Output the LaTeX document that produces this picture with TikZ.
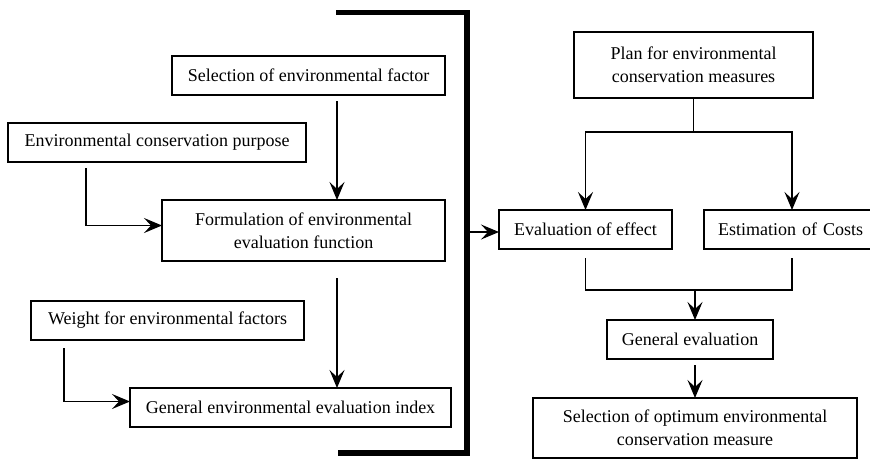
\documentclass[tikz,border=0pt]{standalone}
\usepackage{fontspec}
\setmainfont{Liberation Serif}
\usetikzlibrary{calc, positioning, arrows.meta}
\def\boxlinewidth{1.2pt}
\def\bracketlinewidth{5.5pt}
\def\boxheight{39pt}
\def\tallboxheight{61pt}
\def\shortenlen{6pt}
\tikzset{
	% labels
	label/.style={
		font=\fontsize{18}{23}\selectfont,
		align=center,
	},
	% boxes
	stepbox/.style={
		shape=rectangle,
		draw=black,
		line width=\boxlinewidth,
		minimum height=\boxheight,
		label,
		inner sep=0pt,
		outer sep=0pt,
		anchor=north west,
	},
	% connections
	connection/.style={
		line width=1.2pt,
		-{Stealth[length=18pt,width=15pt,inset=7pt]},
	},
	plainline/.style={
		line width=1.2pt,
	},
	% bracket
	bracket/.style={
		line width=\bracketlinewidth,
		line join=miter,
	}
}
\begin{document}
\begin{tikzpicture}[x=1pt, y=-1pt]
		\useasboundingbox (0,0) rectangle (870,459);
		% Left column
		\node[
			stepbox,
			minimum width=273pt,
		] (sel_factor) at (172,56) {Selection of environmental factor};
		%
		\node[
			stepbox,
			minimum width=298pt,
		] (purpose) at (8,123) {Environmental conservation purpose};
		%
		\node[
			stepbox,
			minimum width=283pt,
			minimum height=\tallboxheight,
		] (formulation) at (162,200) {Formulation of environmental\\evaluation function};
		%
		\node[
			stepbox,
			minimum width=273pt,
		] (weight) at (31,301) {Weight for environmental factors};
		%
		\node[
			stepbox,
			minimum width=321pt,
		] (gen_index) at (130,388) {General environmental evaluation index};

		% Right column
		\node[
			stepbox,
			minimum width=239pt,
			minimum height=66pt,
		] (plan) at (574,32) {Plan for environmental\\conservation measures};
		%
		\node[
			stepbox,
			minimum width=173pt,
		] (eval_effect) at (499,210) {Evaluation of effect};
		%
		\node[
			stepbox,
			minimum width=176pt,
			text width=166pt,
			align=left,
		] (costs) at (704,210) {\hspace{9pt}Estimation of Costs};
		%
		\node[
			stepbox,
			minimum width=166pt,
		] (gen_eval) at (607,320) {General evaluation};
		%
		\node[
			stepbox,
			minimum width=324pt,
			minimum height=60pt,
		] (selection) at (533,398) {Selection of optimum environmental\\conservation measure};

		% Bracket
		\coordinate (bracket_top) at (336,12.5);
		\coordinate (bracket_bottom) at (338,453);
		\coordinate (bracket_out) at (467,232);
		\draw [
			bracket
		] (bracket_top) -| (bracket_out) |- (bracket_bottom);

		% Connections
		\coordinate (left_axis) at (337,0);
		\coordinate (purpose_axis) at (86,0);
		\coordinate (weight_axis) at (64,0);
		%% factor -> formulation
		\draw [
			connection,
			shorten <=\shortenlen
		] (sel_factor.south -| left_axis) -- (formulation.north -| left_axis);
		%% purpose -> formulation
		\draw [
			connection,
			shorten <=\shortenlen
		] (purpose.south -| purpose_axis) |- ([yshift=5pt]formulation.west);
		%% formulation -> index
		\draw [
			connection,
			shorten <=17pt
		] (formulation.south -| left_axis) -- (gen_index.north -| left_axis);
		%% weight -> index
		\draw [
			connection,
			shorten <=8pt
		] (weight.south -| weight_axis) |- ([yshift=6pt]gen_index.west);
		%% bracket -> effect
		\draw [
			connection,
			shorten <=3pt
		] (bracket_out) -- (bracket_out -| eval_effect.west);
		%% plan -> effect, costs
		\draw [
			plainline
		] (plan.south) -- ++(0,34) coordinate (plan_split);
		\foreach \target in {eval_effect, costs} {
			\draw [
				connection
			] (plan_split) -| (\target.north);
		}
		%% effect, costs -> general evaluation
		\draw [
			plainline
		] ([yshift=-9pt]eval_effect.south) -- ++(0,32) coordinate (merge_left)
		  -| ([yshift=-9pt]costs.south);
		\draw [
			connection
		] (merge_left -| selection.north) -- (gen_eval.north -| selection.north);
		%% general evaluation -> selection
		\draw [
			connection,
			shorten <=\shortenlen
		] (gen_eval.south -| selection.north) -- (selection.north);
	\end{tikzpicture}
\end{document}
